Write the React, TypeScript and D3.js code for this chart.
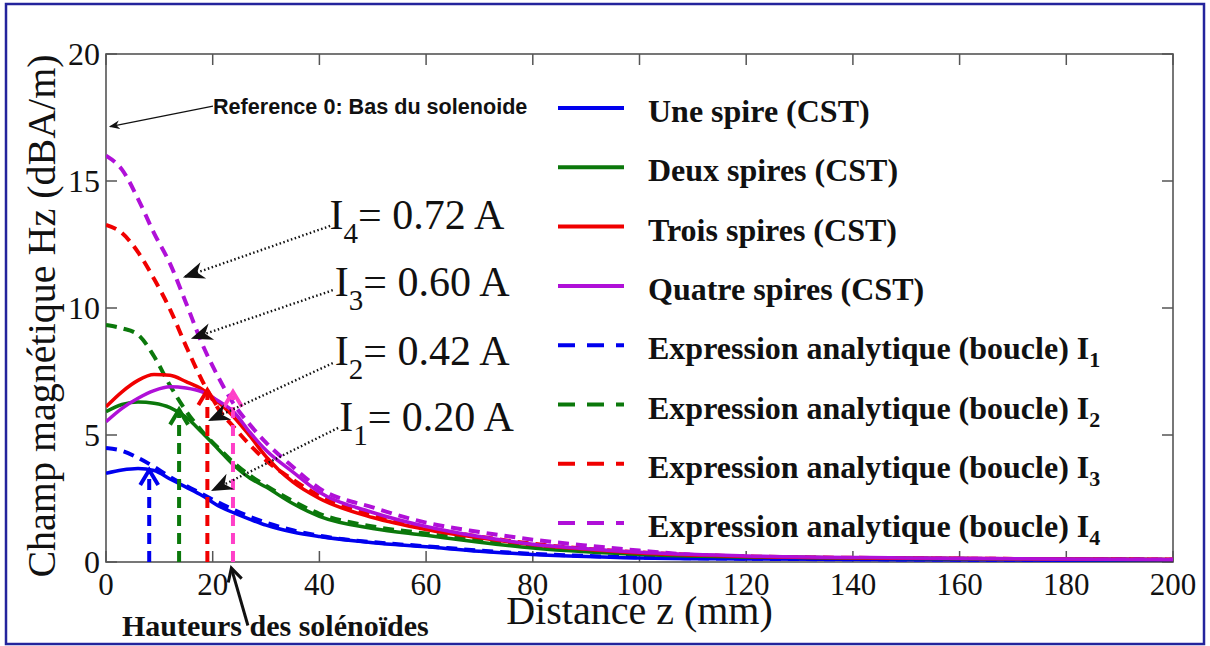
import React from 'react';
import * as d3 from 'd3';

// ---------- DATA ----------
const zGrid = [0, 3, 6, 9, 12, 15, 18, 21, 24, 27, 30, 35, 40, 50, 60, 70, 80, 90, 100, 120, 150, 200];

const cstOne = [3.49, 3.62, 3.68, 3.6, 3.27, 2.95, 2.62, 2.22, 1.93, 1.68, 1.45, 1.18, 1.0, 0.76, 0.6, 0.42, 0.3, 0.22, 0.16, 0.12, 0.09, 0.06];
const cstTwo = [5.92, 6.2, 6.3, 6.25, 6.08, 5.7, 5.1, 4.45, 3.8, 3.3, 2.95, 2.3, 1.8, 1.32, 1.05, 0.78, 0.55, 0.4, 0.3, 0.2, 0.14, 0.09];
const cstThree = [6.11, 6.7, 7.15, 7.38, 7.35, 7.1, 6.8, 6.3, 5.7, 4.95, 4.15, 3.15, 2.5, 1.75, 1.28, 0.95, 0.68, 0.5, 0.35, 0.22, 0.15, 0.1];
const cstFour = [5.52, 6.05, 6.45, 6.75, 6.9, 6.85, 6.7, 6.35, 5.9, 5.1, 4.4, 3.55, 2.75, 1.95, 1.4, 1.0, 0.7, 0.52, 0.38, 0.24, 0.16, 0.1];

const anaOne = [4.49, 4.38, 4.1, 3.75, 3.35, 3.0, 2.68, 2.35, 2.05, 1.78, 1.55, 1.25, 1.03, 0.78, 0.62, 0.45, 0.32, 0.24, 0.18, 0.13, 0.1, 0.07];
const anaTwo = [9.33, 9.2, 8.95, 8.1, 6.95, 5.95, 5.15, 4.5, 3.9, 3.4, 3.0, 2.4, 1.9, 1.4, 1.12, 0.85, 0.6, 0.45, 0.33, 0.2, 0.14, 0.09];
const anaThree = [13.27, 12.95, 12.2, 11.15, 9.95, 8.5, 7.15, 6.05, 5.3, 4.6, 4.0, 3.25, 2.6, 1.85, 1.35, 1.0, 0.72, 0.52, 0.38, 0.22, 0.15, 0.1];
const anaFour = [16.0, 15.45, 14.3, 12.95, 11.75, 10.2, 8.6, 7.3, 6.2, 5.4, 4.7, 3.75, 2.9, 2.15, 1.55, 1.18, 0.88, 0.65, 0.45, 0.18, 0.14, 0.1];

const cstSeries = [cstOne, cstTwo, cstThree, cstFour];
const anaSeries = [anaOne, anaTwo, anaThree, anaFour];

const cstNames = ['Une spire (CST)', 'Deux spires (CST)', 'Trois spires (CST)', 'Quatre spires (CST)'];
const anaName = 'Expression analytique (boucle) I';
const anaSubs = ['1', '2', '3', '4'];

const seriesColors = ['#0000ee', '#0b780b', '#f00000', '#b010d8'];

// solenoid heights (vertical dashed markers)
const heightZ = [8.1, 13.7, 19.0, 23.8];
const heightV = [3.62, 6.0, 6.77, 6.7];
const heightColors = ['#0000ee', '#0b780b', '#f00000', '#ff40c8'];

// current annotations
const currentSubs = ['1', '2', '3', '4'];
const currentValues = ['0.20', '0.42', '0.60', '0.72'];
const currentTipZ = [20.05, 19.5, 16.3, 14.8];
const currentTipV = [2.83, 5.59, 8.82, 11.23];
const currentTailZ = [43.5, 42.5, 42.5, 42.0];
const currentTailV = [5.28, 7.83, 10.7, 13.23];
const currentLabelZ = [43.7, 42.9, 42.9, 41.9];
const currentLabelV = [5.16, 7.76, 10.47, 13.1];

// reference annotation
const refText = 'Reference 0: Bas du solenoide';
const refTip = [0.75, 17.14];
const refTail = [20.05, 17.95];

const heightsText = 'Hauteurs des solénoïdes';
const heightsTip = [23.5, -0.24];
const heightsTail = [26.6, -2.5];

const xTicks = [0, 20, 40, 60, 80, 100, 120, 140, 160, 180, 200];
const yTicks = [0, 5, 10, 15, 20];
const xLabel = 'Distance z (mm)';
const yLabel = 'Champ magnétique Hz (dBA/m)';

// ---------- LAYOUT ----------
const W = 1210, H = 646;
const plot = { left: 106, right: 1173, top: 54, bottom: 562 };
const serif = "'Times New Roman', 'Liberation Serif', serif";
const sans = "Arial, 'Liberation Sans', sans-serif";

export default function App() {
  const x = d3.scaleLinear().domain([0, 200]).range([plot.left, plot.right]);
  const y = d3.scaleLinear().domain([0, 20]).range([plot.bottom, plot.top]);
  const line = d3.line<number>().x((_, i) => x(zGrid[i])).y(d => y(d)).curve(d3.curveMonotoneX);

  const tickLen = 11;
  const axisColor = '#555';

  const legendX0 = 558, legendX1 = 624, legendTextX = 648;
  const legendY0 = 108, legendStep = 59.3;

  const chevron = (tx: number, ty: number, dx: number, dy: number, size: number, half: number) => {
    const len = Math.hypot(dx, dy);
    const ux = dx / len, uy = dy / len;
    const bx = tx - ux * size, by = ty - uy * size;
    const px = -uy * half, py = ux * half;
    return `M${bx + px},${by + py} L${tx},${ty} L${bx - px},${by - py}`;
  };

  return (
    <svg width={W} height={H} style={{ position: 'absolute', left: 0, top: 0, background: '#fff' }}>
      <defs>
        <clipPath id="plotClip">
          <rect x={plot.left} y={plot.top} width={plot.right - plot.left} height={plot.bottom - plot.top} />
        </clipPath>
        <marker id="blackArrow" viewBox="0 0 10 10" refX="9" refY="5" markerWidth="9" markerHeight="9" orient="auto-start-reverse">
          <path d="M0,1 L10,5 L0,9 L3,5 Z" fill="#111" />
        </marker>
      </defs>
      <rect x={0} y={0} width={W} height={H} fill="#fff" />
      <rect x={6} y={4} width={1198} height={640} fill="none" stroke="#24249c" strokeWidth={2.5} />

      {/* axes box */}
      <rect x={plot.left} y={plot.top} width={plot.right - plot.left} height={plot.bottom - plot.top}
        fill="none" stroke={axisColor} strokeWidth={1.6} />
      {xTicks.map(t => (
        <g key={'xt' + t}>
          <line x1={x(t)} x2={x(t)} y1={plot.bottom} y2={plot.bottom - tickLen} stroke={axisColor} strokeWidth={1.5} />
          <line x1={x(t)} x2={x(t)} y1={plot.top} y2={plot.top + tickLen} stroke={axisColor} strokeWidth={1.5} />
          <text x={x(t)} y={595} textAnchor="middle" fontFamily={serif} fontSize={31} fill="#111">{t}</text>
        </g>
      ))}
      {yTicks.map(t => (
        <g key={'yt' + t}>
          <line x1={plot.left} x2={plot.left + tickLen} y1={y(t)} y2={y(t)} stroke={axisColor} strokeWidth={1.5} />
          <line x1={plot.right} x2={plot.right - tickLen} y1={y(t)} y2={y(t)} stroke={axisColor} strokeWidth={1.5} />
          <text x={100} y={y(t) + 11} textAnchor="end" fontFamily={serif} fontSize={32} fill="#111">{t}</text>
        </g>
      ))}

      {/* curves */}
      <g clipPath="url(#plotClip)" fill="none">
        {anaSeries.map((s, i) => (
          <path key={'a' + i} d={line(s) || ''} stroke={seriesColors[i]} strokeWidth={4} strokeDasharray="11 7" />
        ))}
        {cstSeries.map((s, i) => (
          <path key={'c' + i} d={line(s) || ''} stroke={seriesColors[i]} strokeWidth={3.5} />
        ))}
      </g>

      {/* solenoid height markers */}
      {heightZ.map((z, i) => (
        <g key={'h' + i} fill="none" stroke={heightColors[i]} strokeWidth={4}>
          <line x1={x(z)} x2={x(z)} y1={y(0)} y2={y(heightV[i]) + 4} strokeDasharray="11 7" />
          <path d={chevron(x(z), y(heightV[i]), 0, -1, 15, 9)} strokeLinejoin="miter" />
        </g>
      ))}

      {/* current annotations */}
      {currentValues.map((v, i) => (
        <g key={'cur' + i}>
          <line x1={x(currentTailZ[i])} y1={y(currentTailV[i])} x2={x(currentTipZ[i])} y2={y(currentTipV[i])}
            stroke="#111" strokeWidth={2.4} strokeDasharray="1.5 2.5" markerEnd="url(#blackArrow)" />
          <text x={x(currentLabelZ[i])} y={y(currentLabelV[i])} fontFamily={serif} fontSize={42} fill="#111">
            I<tspan fontSize={29} dy={14}>{currentSubs[i]}</tspan><tspan dy={-14}>= {v} A</tspan>
          </text>
        </g>
      ))}

      {/* reference annotation */}
      <line x1={x(refTail[0])} y1={y(refTail[1])} x2={x(refTip[0])} y2={y(refTip[1])}
        stroke="#111" strokeWidth={1.2} markerEnd="url(#blackArrow)" />
      <text x={x(refTail[0])} y={114} fontFamily={sans} fontWeight="bold" fontSize={21.6} fill="#111">{refText}</text>

      {/* heights annotation */}
      <line x1={x(heightsTail[0])} y1={y(heightsTail[1])} x2={x(heightsTip[0])} y2={y(heightsTip[1])}
        stroke="#111" strokeWidth={3} />
      <path d={chevron(x(heightsTip[0]), y(heightsTip[1]), x(heightsTip[0]) - x(heightsTail[0]), y(heightsTip[1]) - y(heightsTail[1]), 13, 7)}
        fill="none" stroke="#111" strokeWidth={3} />
      <text x={122} y={636} fontFamily={serif} fontWeight="bold" fontSize={30} fill="#111">{heightsText}</text>

      {/* axis labels */}
      <text x={(plot.left + plot.right) / 2} y={624} textAnchor="middle" fontFamily={serif} fontSize={40} fill="#111">{xLabel}</text>
      <text transform={`translate(55, 316) rotate(-90)`} textAnchor="middle" fontFamily={serif} fontSize={40} fill="#111">{yLabel}</text>

      {/* legend */}
      {cstNames.map((n, i) => {
        const ly = legendY0 + i * legendStep;
        return (
          <g key={'lc' + i}>
            <line x1={legendX0} x2={legendX1} y1={ly} y2={ly} stroke={seriesColors[i]} strokeWidth={4} />
            <text x={legendTextX} y={ly + 14} fontFamily={serif} fontWeight="bold" fontSize={32} fill="#111">{n}</text>
          </g>
        );
      })}
      {anaSubs.map((s, i) => {
        const ly = legendY0 + (i + 4) * legendStep;
        return (
          <g key={'la' + i}>
            <line x1={legendX0} x2={legendX1} y1={ly} y2={ly} stroke={seriesColors[i]} strokeWidth={4} strokeDasharray="17 12" />
            <text x={legendTextX} y={ly + 14} fontFamily={serif} fontWeight="bold" fontSize={32} fill="#111">
              {anaName}<tspan fontSize={22} dy={8}>{s}</tspan>
            </text>
          </g>
        );
      })}
    </svg>
  );
}
